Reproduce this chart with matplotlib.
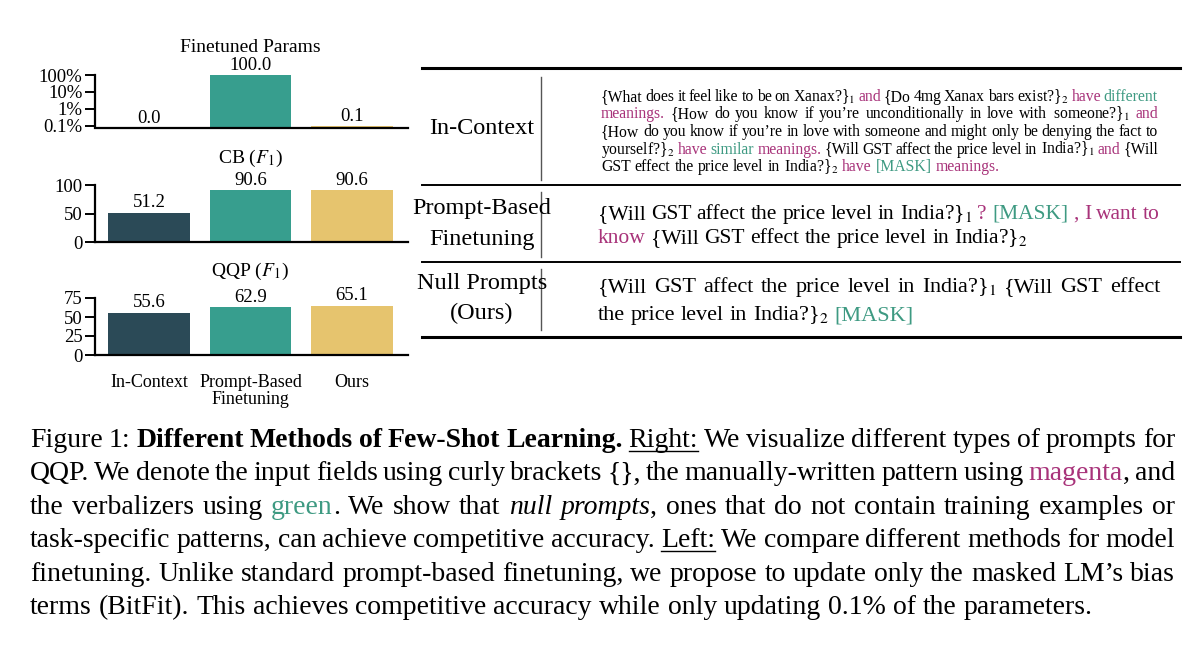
import re
import numpy as np
import matplotlib
matplotlib.use("Agg")
import matplotlib.pyplot as plt
from matplotlib.lines import Line2D

plt.rcParams["font.family"] = ["Liberation Serif", "DejaVu Serif"]
plt.rcParams["mathtext.fontset"] = "stix"

# ---- data ----
methods = ["In-Context", "Prompt-Based\nFinetuning", "Ours"]
params_pct = [0.0, 100.0, 0.1]
cb_f1 = [51.2, 90.6, 90.6]
qqp_f1 = [55.6, 62.9, 65.1]
bar_colors = ["#2b4a57", "#379e8e", "#e6c46e"]

MAG = "#a8337a"
GRN = "#3e9a82"
W, H = 1200, 667

fig = plt.figure(figsize=(12, 6.67), dpi=100)
renderer = fig.canvas.get_renderer()


def fx(x):
    return x / W


def fy(y):
    return 1 - y / H


# ---- left bar panels ----
def panel(top, bottom, vals, ylim, ticks, ticklabels, title, log=False, xlabels=False):
    ax = fig.add_axes([fx(95), fy(bottom), fx(408 - 95), (bottom - top) / H])
    x = np.arange(len(vals))
    plot_vals = [v if v > 0 else np.nan for v in vals]
    ax.bar(x, plot_vals, width=0.8, color=bar_colors)
    if log:
        ax.set_yscale("log")
    ax.set_ylim(*ylim)
    ax.set_xlim(-0.53, 2.55)
    ax.set_yticks(ticks)
    ax.set_yticklabels(ticklabels, fontsize=13.5)
    ax.minorticks_off()
    for s in ["top", "right"]:
        ax.spines[s].set_visible(False)
    ax.spines["left"].set_bounds(ylim[0] if not log else ticks[0], ticks[-1])
    ax.spines["left"].set_linewidth(1.6)
    ax.spines["bottom"].set_linewidth(1.6)
    ax.tick_params(axis="y", length=7, width=1.4, pad=2)
    if xlabels:
        ax.set_xticks(x)
        ax.set_xticklabels(methods, fontsize=13, linespacing=0.95)
        ax.tick_params(axis="x", length=0, pad=14)
    else:
        ax.set_xticks([])
    for xi, v in zip(x, vals):
        yv = v if v > 0 else ylim[0]
        ax.annotate(f"{v:.1f}", (xi, yv), xytext=(0, 1), textcoords="offset points",
                    ha="center", va="bottom", fontsize=13.5, annotation_clip=False)
    fig.text(fx(250), fy(top - 27), title, ha="center", va="center", fontsize=14)
    return ax


panel(75, 128, params_pct, (0.076, 100), [0.1, 1, 10, 100],
      ["0.1%", "1%", "10%", "100%"], "Finetuned Params", log=True)
panel(185, 242, cb_f1, (0, 100), [0, 50, 100], ["0", "50", "100"], "CB ($F_1$)")
panel(298, 355, qqp_f1, (0, 75), [0, 25, 50, 75], ["0", "25", "50", "75"],
      "QQP ($F_1$)", xlabels=True)


# ---- rich text line layout ----
STYLES = {"m": {"color": MAG}, "g": {"color": GRN}, "b": {"weight": "bold"},
          "i": {"style": "italic"}, "u": {}}


def parse(line):
    pieces = []
    for m in re.finditer(r"<(\w)>(.*?)</\1>|([^<]+)", line):
        if m.group(3) is not None:
            pieces.append((m.group(3), None))
        else:
            pieces.append((m.group(2), m.group(1)))
    words = [[]]
    for text, st in pieces:
        parts = text.split(" ")
        for k, p in enumerate(parts):
            if k > 0:
                words.append([])
            if p:
                words[-1].append((p, st))
    return [w for w in words if w]


def width_of(t):
    return t.get_window_extent(renderer).width


def draw_line(x0, y, line, size, justify=None):
    words = parse(line)
    probe = fig.text(0, 0, "x x", fontsize=size)
    probe2 = fig.text(0, 0, "xx", fontsize=size)
    sp = width_of(probe) - width_of(probe2)
    probe.remove(); probe2.remove()
    arts = []
    total = 0
    for w in words:
        wa = []
        for text, st in w:
            kw = dict(STYLES.get(st, {})) if st else {}
            t = fig.text(0, fy(y), text, fontsize=size, va="baseline", **kw)
            wa.append((t, width_of(t), st))
            total += wa[-1][1]
        arts.append(wa)
    gap = sp
    if justify and len(words) > 1:
        gap = max((justify - total) / (len(words) - 1), sp * 0.6)
    x = x0
    for wa in arts:
        for t, wd, st in wa:
            t.set_x(fx(x))
            if st == "u":
                fig.add_artist(Line2D([fx(x), fx(x + wd)], [fy(y + 4), fy(y + 4)],
                                      color="black", lw=1))
            x += wd
        x += gap


# ---- table ----
L, R = 422, 1180
for yy, lw in [(68, 2.2), (185, 1.4), (262, 1.4), (337, 2.2)]:
    fig.add_artist(Line2D([fx(L), fx(R)], [fy(yy), fy(yy)], color="black", lw=lw))
for y1, y2 in [(77, 180), (192, 257), (269, 330)]:
    fig.add_artist(Line2D([fx(541), fx(541)], [fy(y1), fy(y2)], color="#555555", lw=1))

lab = 17.5
fig.text(fx(482), fy(128), "In-Context", ha="center", va="center", fontsize=lab)
fig.text(fx(482), fy(209), "Prompt-Based", ha="center", va="center", fontsize=lab)
fig.text(fx(482), fy(239), "Finetuning", ha="center", va="center", fontsize=lab)
fig.text(fx(482), fy(284), "Null Prompts", ha="center", va="center", fontsize=lab)
fig.text(fx(482), fy(313), "(Ours)", ha="center", va="center", fontsize=lab)

ic = [
    "{What does it feel like to be on Xanax?}$_1$ <m>and</m> {Do 4mg Xanax bars exist?}$_2$ <m>have</m> <g>different</g>",
    "<m>meanings.</m> {How do you know if you\u2019re unconditionally in love with someone?}$_1$ <m>and</m>",
    "{How do you know if you\u2019re in love with someone and might only be denying the fact to",
    "yourself?}$_2$ <m>have</m> <g>similar</g> <m>meanings.</m> {Will GST affect the price level in India?}$_1$ <m>and</m> {Will",
    "GST effect the price level in India?}$_2$ <m>have</m> <g>[MASK]</g> <m>meanings.</m>",
]
for k, ln in enumerate(ic):
    draw_line(601, 101 + 17.5 * k, ln, 11.3, justify=557 if k < 4 else None)

draw_line(598, 219, "{Will GST affect the price level in India?}$_1$ <m>?</m> <g>[MASK]</g> <m>,</m> <m>I</m> <m>want</m> <m>to</m>",
          15.5, justify=562)
draw_line(598, 243, "<m>know</m> {Will GST effect the price level in India?}$_2$", 15.5)
draw_line(598, 292, "{Will GST affect the price level in India?}$_1$ {Will GST effect", 16, justify=562)
draw_line(598, 320, "the price level in India?}$_2$ <g>[MASK]</g>", 16)

# ---- caption ----
cap = [
    "Figure 1: <b>Different Methods of Few-Shot Learning.</b> <u>Right:</u> We visualize different types of prompts for",
    "QQP. We denote the input fields using curly brackets {}, the manually-written pattern using <m>magenta</m>, and",
    "the verbalizers using <g>green</g>. We show that <i>null prompts</i>, ones that do not contain training examples or",
    "task-specific patterns, can achieve competitive accuracy. <u>Left:</u> We compare different methods for model",
    "finetuning. Unlike standard prompt-based finetuning, we propose to update only the masked LM\u2019s bias",
    "terms (BitFit). This achieves competitive accuracy while only updating 0.1% of the parameters.",
]
for k, ln in enumerate(cap):
    draw_line(30, 447 + 33.4 * k, ln, 20, justify=1145 if k < 5 else None)

fig.savefig("out.png", dpi=100)
